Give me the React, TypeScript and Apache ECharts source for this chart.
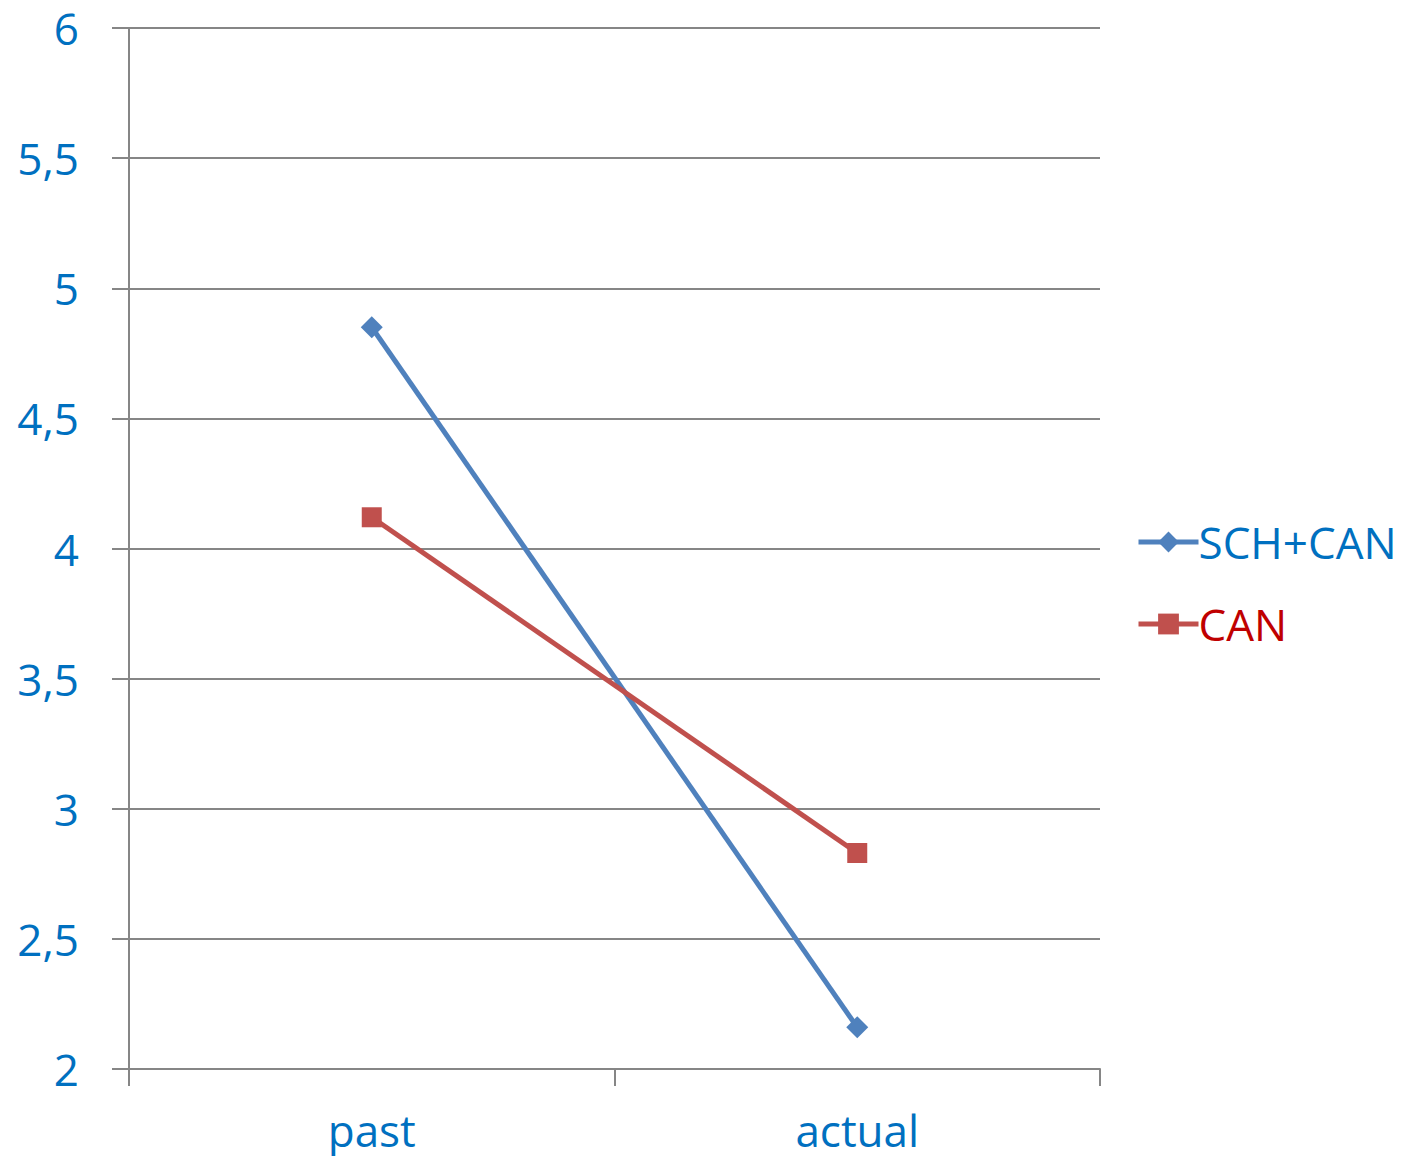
import React, { useEffect, useRef } from "react";
import * as echarts from "echarts";

const categories = ["past", "actual"];
const schCanValues = [4.85, 2.16];
const canValues = [4.12, 2.83];
const seriesNames = ["SCH+CAN", "CAN"];
const yMin = 2;
const yMax = 6;
const yStep = 0.5;

const FONT = "'Open Sans', sans-serif";
const AXIS_BLUE = "#0070C0";
const GRID_GREY = "#868686";

export default function App() {
  const ref = useRef<HTMLDivElement>(null);

  useEffect(() => {
    if (!ref.current) return;
    const chart = echarts.init(ref.current, undefined, { renderer: "svg" });
    chart.setOption({
      animation: false,
      backgroundColor: "#ffffff",
      grid: { left: 129, right: 310, top: 28, bottom: 95, containLabel: false },
      legend: {
        orient: "vertical",
        left: 1131,
        top: 514,
        itemWidth: 60,
        itemHeight: 26,
        itemGap: 36,
        lineStyle: { width: 5 },
        textStyle: { fontFamily: FONT, fontSize: 44, lineHeight: 46, padding: [0, 0, 0, -5] },
        data: [
          { name: seriesNames[0], textStyle: { color: AXIS_BLUE } },
          { name: seriesNames[1], textStyle: { color: "#C00000" } },
        ],
      },
      xAxis: {
        type: "category",
        data: categories,
        boundaryGap: true,
        axisLine: { show: true, lineStyle: { color: GRID_GREY, width: 2 } },
        axisTick: { show: true, length: 17, lineStyle: { color: GRID_GREY, width: 2 } },
        axisLabel: { margin: 38, color: AXIS_BLUE, fontFamily: FONT, fontSize: 44, lineHeight: 46 },
      },
      yAxis: {
        type: "value",
        min: yMin,
        max: yMax,
        interval: yStep,
        axisLine: { show: true, lineStyle: { color: GRID_GREY, width: 2 } },
        axisTick: { show: true, length: 17, lineStyle: { color: GRID_GREY, width: 2 } },
        splitLine: { show: true, lineStyle: { color: GRID_GREY, width: 2 } },
        axisLabel: {
          margin: 50,
          color: AXIS_BLUE,
          fontFamily: FONT,
          fontSize: 44,
          lineHeight: 36,
          formatter: (v: number) => String(v).replace(".", ","),
        },
      },
      series: [
        {
          name: seriesNames[0],
          type: "line",
          data: schCanValues,
          symbol: "diamond",
          symbolSize: 22,
          lineStyle: { color: "#4F81BD", width: 5 },
          itemStyle: { color: "#4F81BD" },
        },
        {
          name: seriesNames[1],
          type: "line",
          data: canValues,
          symbol: "rect",
          symbolSize: 20,
          lineStyle: { color: "#C0504D", width: 5 },
          itemStyle: { color: "#C0504D" },
        },
      ],
    });
    return () => chart.dispose();
  }, []);

  return <div ref={ref} style={{ width: 1410, height: 1164, margin: -8 }} />;
}
